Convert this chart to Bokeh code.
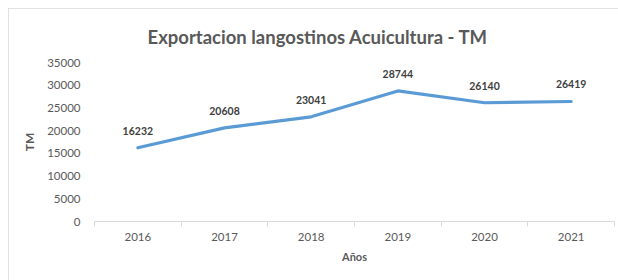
from bokeh.plotting import figure
from bokeh.models import ColumnDataSource, Range1d, FixedTicker, Title
from bokeh.core.properties import value
from bokeh.embed import file_html
from bokeh.resources import INLINE

years = ["2016", "2017", "2018", "2019", "2020", "2021"]
exports = [16232, 20608, 23041, 28744, 26140, 26419]
y_ticks = [0, 5000, 10000, 15000, 20000, 25000, 30000, 35000]

FONT = "Lato"
GRAY = "#595959"

xpos = [i + 0.5 for i in range(len(years))]
src = ColumnDataSource(dict(x=xpos, y=exports, lbl=[str(v) for v in exports]))

p = figure(width=610, height=272, output_backend="svg", toolbar_location=None,
           x_range=Range1d(0, len(years)), y_range=Range1d(0, 35000),
           min_border_left=86, min_border_right=4, min_border_top=52, min_border_bottom=59)
p.margin = (8, 0, 0, 8)
p.styles = {"outline": "1px solid #d9d9d9", "outline-offset": "-1px"}

p.title = Title(text="Exportacion langostinos Acuicultura - TM", align="left",
                text_font=FONT, text_font_size="18.5px", text_color=GRAY,
                text_font_style="bold", standoff=30, offset=53)

p.line("x", "y", source=src, line_color="#5B9BD5", line_width=3.2, line_cap="round")
p.text("x", "y", text="lbl", source=src, text_align="center", text_baseline="bottom",
       y_offset=-13, text_font=value(FONT), text_font_size="10.5px",
       text_font_style="bold", text_color="#404040")

p.xgrid.visible = False
p.ygrid.visible = False
p.outline_line_color = None

xa = p.xaxis[0]
xa.ticker = FixedTicker(ticks=xpos, minor_ticks=list(range(len(years) + 1)))
xa.major_label_overrides = {x: y for x, y in zip(xpos, years)}
xa.major_tick_line_color = None
xa.major_tick_out = 0
xa.minor_tick_in = 0
xa.minor_tick_out = 5
xa.minor_tick_line_color = "#d9d9d9"
xa.axis_line_color = "#d9d9d9"
xa.major_label_standoff = 6
xa.major_label_text_font = FONT
xa.major_label_text_font_size = "11.5px"
xa.major_label_text_color = GRAY
xa.axis_label = "Años"
xa.axis_label_text_font = FONT
xa.axis_label_text_font_size = "11px"
xa.axis_label_text_font_style = "bold"
xa.axis_label_text_color = GRAY
xa.axis_label_standoff = 6

ya = p.yaxis[0]
ya.ticker = FixedTicker(ticks=y_ticks)
ya.axis_line_color = None
ya.major_tick_line_color = None
ya.minor_tick_line_color = None
ya.major_tick_out = 0
ya.major_label_standoff = 14
ya.major_label_text_font = FONT
ya.major_label_text_font_size = "11.5px"
ya.major_label_text_color = GRAY
ya.axis_label = "TM"
ya.axis_label_text_font = FONT
ya.axis_label_text_font_size = "12px"
ya.axis_label_text_font_style = "bold"
ya.axis_label_text_color = GRAY
ya.axis_label_standoff = 7

open("out.html", "w").write(file_html(p, INLINE))
